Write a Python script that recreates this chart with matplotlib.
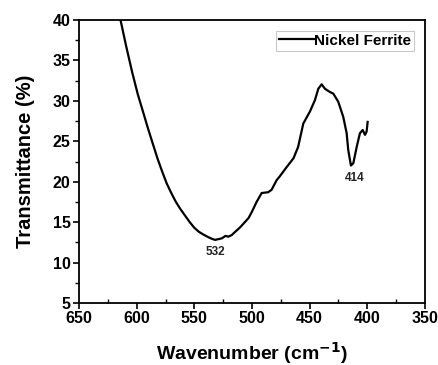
import numpy as np
import matplotlib
matplotlib.use('Agg')
import matplotlib.pyplot as plt
from matplotlib.ticker import MultipleLocator

plt.rcParams['font.family'] = ['Liberation Sans', 'DejaVu Sans']
plt.rcParams['font.weight'] = 'bold'
plt.rcParams['mathtext.default'] = 'bf'

# FTIR spectrum
wavenumber = [614, 609, 604, 599, 595, 590, 586, 582, 578, 574, 570, 566, 562,
              558, 554, 550, 546, 542, 538, 535, 532,
              526, 523, 520.5, 517.6, 510, 503, 500, 496, 491.6, 486, 483, 478.6,
              475.7, 470, 464, 460, 455.5, 449.7, 445.4, 442.5, 439.6, 436.7,
              432.4, 429.5, 425.2, 420.8, 417.9, 416.5, 414.2, 412.1, 409.2,
              406.4, 404, 402, 400.6, 399.7]
transmittance = [40, 36.7, 33.6, 30.8, 28.9, 26.5, 24.7, 22.9, 21.3, 19.8, 18.6,
                 17.5, 16.6, 15.8, 15.0, 14.3, 13.8, 13.45, 13.15, 12.95, 12.8,
                 13.0, 13.3, 13.2, 13.4, 14.4, 15.5, 16.3, 17.5, 18.6,
                 18.7, 19.0, 20.2, 20.7, 21.8, 22.9, 24.3, 27.2, 28.7, 30.1, 31.5,
                 32.05, 31.5, 31.1, 30.9, 29.9, 28.0, 26.0, 23.9, 22.0, 22.3, 24.3,
                 26.0, 26.4, 25.8, 26.2, 27.4]
peak_labels = ['532', '414']
peak_pos = [(532, 11.3), (411, 20.5)]

fig = plt.figure(figsize=(4.39, 3.65), dpi=100)
ax = fig.add_axes([0.18, 0.17, 0.788, 0.775])

ax.plot(wavenumber, transmittance, color='black', lw=1.6, label='Nickel Ferrite')
for lbl, (x, y) in zip(peak_labels, peak_pos):
    ax.text(x, y, lbl, ha='center', va='center', fontsize=8.5, fontweight='bold',
            color='#222222')

ax.set_xlim(650, 350)
ax.set_ylim(5, 40)
ax.xaxis.set_major_locator(MultipleLocator(50))
ax.xaxis.set_minor_locator(MultipleLocator(25))
ax.yaxis.set_major_locator(MultipleLocator(5))
ax.yaxis.set_minor_locator(MultipleLocator(2.5))
ax.tick_params(which='major', direction='out', length=4, width=1.2, labelsize=11.5,
               pad=2)
ax.tick_params(axis='x', which='minor', direction='in', length=3, width=1)
ax.tick_params(axis='y', which='minor', direction='out', length=3, width=1)
for s in ax.spines.values():
    s.set_linewidth(1.3)

ax.set_xlabel('Wavenumber (cm$^{-1}$)', fontsize=14, fontweight='bold', labelpad=10)
ax.set_ylabel('Transmittance (%)', fontsize=14.5, fontweight='bold', labelpad=13)

leg = ax.legend(loc='upper right', fontsize=11, frameon=True, fancybox=False,
                handlelength=2.3, handletextpad=0.0, borderaxespad=0.7,
                borderpad=0.2)
leg.get_frame().set_edgecolor('#bbbbbb')
leg.get_frame().set_linewidth(0.8)

fig.savefig('out.png', dpi=100)
